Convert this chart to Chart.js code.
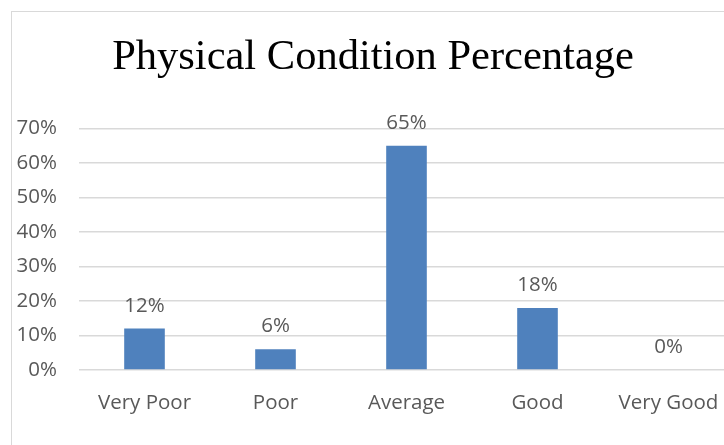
<!DOCTYPE html>
<html>
<head>
<meta charset="utf-8">
<script src="https://cdn.jsdelivr.net/npm/chart.js@4/dist/chart.umd.min.js"></script>
<style>
  html, body { margin: 0; padding: 0; background: #fff; overflow: hidden; width: 724px; height: 445px; }
  #frame { position: absolute; left: 11px; top: 11px; width: 740px; height: 460px; border: 1px solid #d9d9d9; box-sizing: border-box; }
  #wrap { position: absolute; left: 12px; top: 12px; width: 723px; height: 440px; }
</style>
</head>
<body>
<div id="frame"></div>
<div id="wrap"><canvas id="chart" width="723" height="440"></canvas></div>
<script>
    // === Data ===
    const categories = ["Very Poor", "Poor", "Average", "Good", "Very Good"];
    const percentages = [12, 6, 65, 18, 0];
    const yTicks = [0, 10, 20, 30, 40, 50, 60, 70];

    const textColor = "#595959";
    const labelFont = { family: "'Open Sans', 'Noto Sans', sans-serif", size: 20.5 };

    // value labels above each bar
    const valueLabels = {
      id: "valueLabels",
      afterDatasetsDraw(chart) {
        const ctx = chart.ctx;
        const meta = chart.getDatasetMeta(0);
        ctx.save();
        ctx.fillStyle = textColor;
        ctx.font = "20.5px 'Open Sans', 'Noto Sans', sans-serif";
        ctx.textAlign = "center";
        ctx.textBaseline = "alphabetic";
        meta.data.forEach((bar, i) => {
          ctx.fillText(percentages[i] + "%", bar.x, bar.y - 17);
        });
        ctx.restore();
      }
    };

    const ctx = document.getElementById("chart").getContext("2d");
    new Chart(ctx, {
      type: "bar",
      data: {
        labels: categories,
        datasets: [{
          data: percentages,
          backgroundColor: "#4f81bd",
          barPercentage: 0.31,
          categoryPercentage: 1
        }]
      },
      options: {
        responsive: false,
        animation: false,
        layout: { padding: { left: 0, right: 1, top: 0, bottom: 0 } },
        plugins: {
          legend: { display: false },
          tooltip: { enabled: false },
          title: {
            display: true,
            text: "Physical Condition Percentage",
            color: "#000",
            font: { family: "'Liberation Serif', 'Times New Roman', serif", size: 42.5, weight: "normal", lineHeight: 1 },
            padding: { top: 25, bottom: 49 }
          }
        },
        scales: {
          x: {
            grid: { display: false },
            border: { display: false },
            ticks: { color: textColor, font: labelFont, padding: 13, maxRotation: 0 },
            afterFit(scale) { scale.height = 82; }
          },
          y: {
            min: 0,
            max: 70,
            afterBuildTicks(scale) { scale.ticks = yTicks.map(v => ({ value: v })); },
            grid: { color: "#d9d9d9", lineWidth: 1.5, drawTicks: false },
            border: { display: false },
            ticks: { color: textColor, font: labelFont, padding: 22, callback: v => v + "%" },
            afterFit(scale) { scale.width = 67; }
          }
        }
      },
      plugins: [valueLabels]
    });
</script>
</body>
</html>
